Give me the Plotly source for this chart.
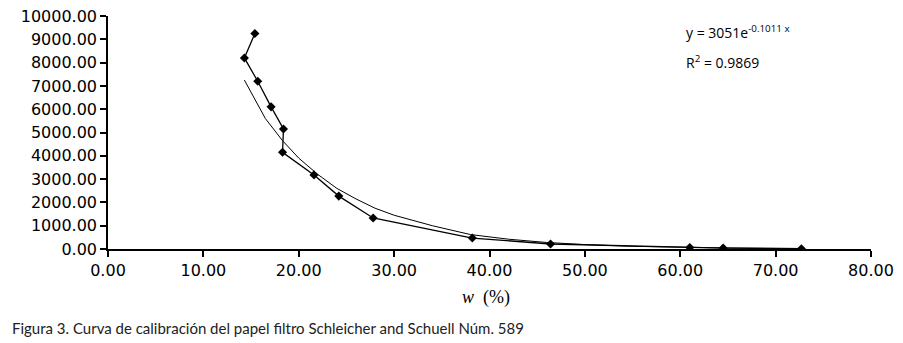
import plotly.graph_objects as go

# Measured data (w %, value)
w_data = [15.4, 14.3, 15.7, 17.1, 18.4, 18.3, 21.6, 24.2, 27.8, 38.2, 46.4, 61.0, 64.5, 72.7]
y_data = [9250, 8200, 7200, 6100, 5150, 4150, 3180, 2270, 1330, 470, 215, 60, 40, 10]

# Exponential trend line
w_trend = [14.3, 16.5, 18.3, 20.0, 22.0, 24.0, 26.0, 28.0, 30.0, 34.0, 38.0, 42.0, 46.0, 50.0, 55.0, 60.0, 65.0, 70.0, 72.7]
y_trend = [7250, 5600, 4650, 3900, 3200, 2600, 2150, 1750, 1450, 1000, 620, 420, 280, 190, 115, 70, 45, 28, 22]

x_ticks = [0, 10, 20, 30, 40, 50, 60, 70, 80]
y_ticks = [0, 1000, 2000, 3000, 4000, 5000, 6000, 7000, 8000, 9000, 10000]

eq_text = "y = 3051e<sup>-0.1011 x</sup>"
r2_text = "R<sup>2</sup> = 0.9869"
x_title = "<i>w</i>  (%)"
caption = "Figura 3. Curva de calibración del papel filtro Schleicher and Schuell Núm. 589"

fig = go.Figure()
fig.add_trace(go.Scatter(x=w_trend, y=y_trend, mode="lines",
                         line=dict(color="black", width=1), showlegend=False))
fig.add_trace(go.Scatter(x=w_data, y=y_data, mode="lines+markers",
                         line=dict(color="black", width=1.3),
                         marker=dict(symbol="diamond", size=7, color="black"),
                         showlegend=False))

axis_font = dict(family="DejaVu Sans", size=16, color="black")
fig.update_xaxes(range=[0, 80], tickvals=x_ticks, tickformat=".2f", automargin=False,
                 showline=True, linecolor="black", linewidth=1.5,
                 ticks="outside", ticklen=6, tickcolor="black", tickwidth=1.5,
                 showgrid=False, zeroline=False, tickfont=axis_font)
fig.update_yaxes(range=[0, 10000], tickvals=y_ticks, tickformat=".2f", automargin=False,
                 showline=True, linecolor="black", linewidth=1.5,
                 ticks="outside", ticklen=6, tickcolor="black", tickwidth=1.5,
                 showgrid=False, zeroline=False, tickfont=axis_font)

fig.add_annotation(text=eq_text, xref="paper", yref="paper",
                   x=(684 - 108) / 763, y=(249 - 32) / 233, xanchor="left", yanchor="middle",
                   showarrow=False, font=dict(family="Open Sans", size=14, color="black"))
fig.add_annotation(text=r2_text, xref="paper", yref="paper",
                   x=(684 - 108) / 763, y=(249 - 62) / 233, xanchor="left", yanchor="middle",
                   showarrow=False, font=dict(family="Open Sans", size=14, color="black"))
fig.add_annotation(text=x_title, xref="paper", yref="paper",
                   x=(486 - 108) / 763, y=(249 - 297) / 233, xanchor="center", yanchor="middle",
                   showarrow=False, font=dict(family="Liberation Serif", size=18, color="black"))
fig.add_annotation(text=caption, xref="paper", yref="paper",
                   x=(10 - 108) / 763, y=(249 - 328) / 233, xanchor="left", yanchor="middle",
                   showarrow=False, font=dict(family="Lato", size=15, color="#222222"))

fig.update_layout(width=903, height=343,
                  margin=dict(l=108, r=32, t=16, b=94, autoexpand=False),
                  paper_bgcolor="white", plot_bgcolor="white")

fig.write_html("out.html", config={"displayModeBar": False},
               post_script="document.body.style.margin='0';document.body.style.padding='0';")
